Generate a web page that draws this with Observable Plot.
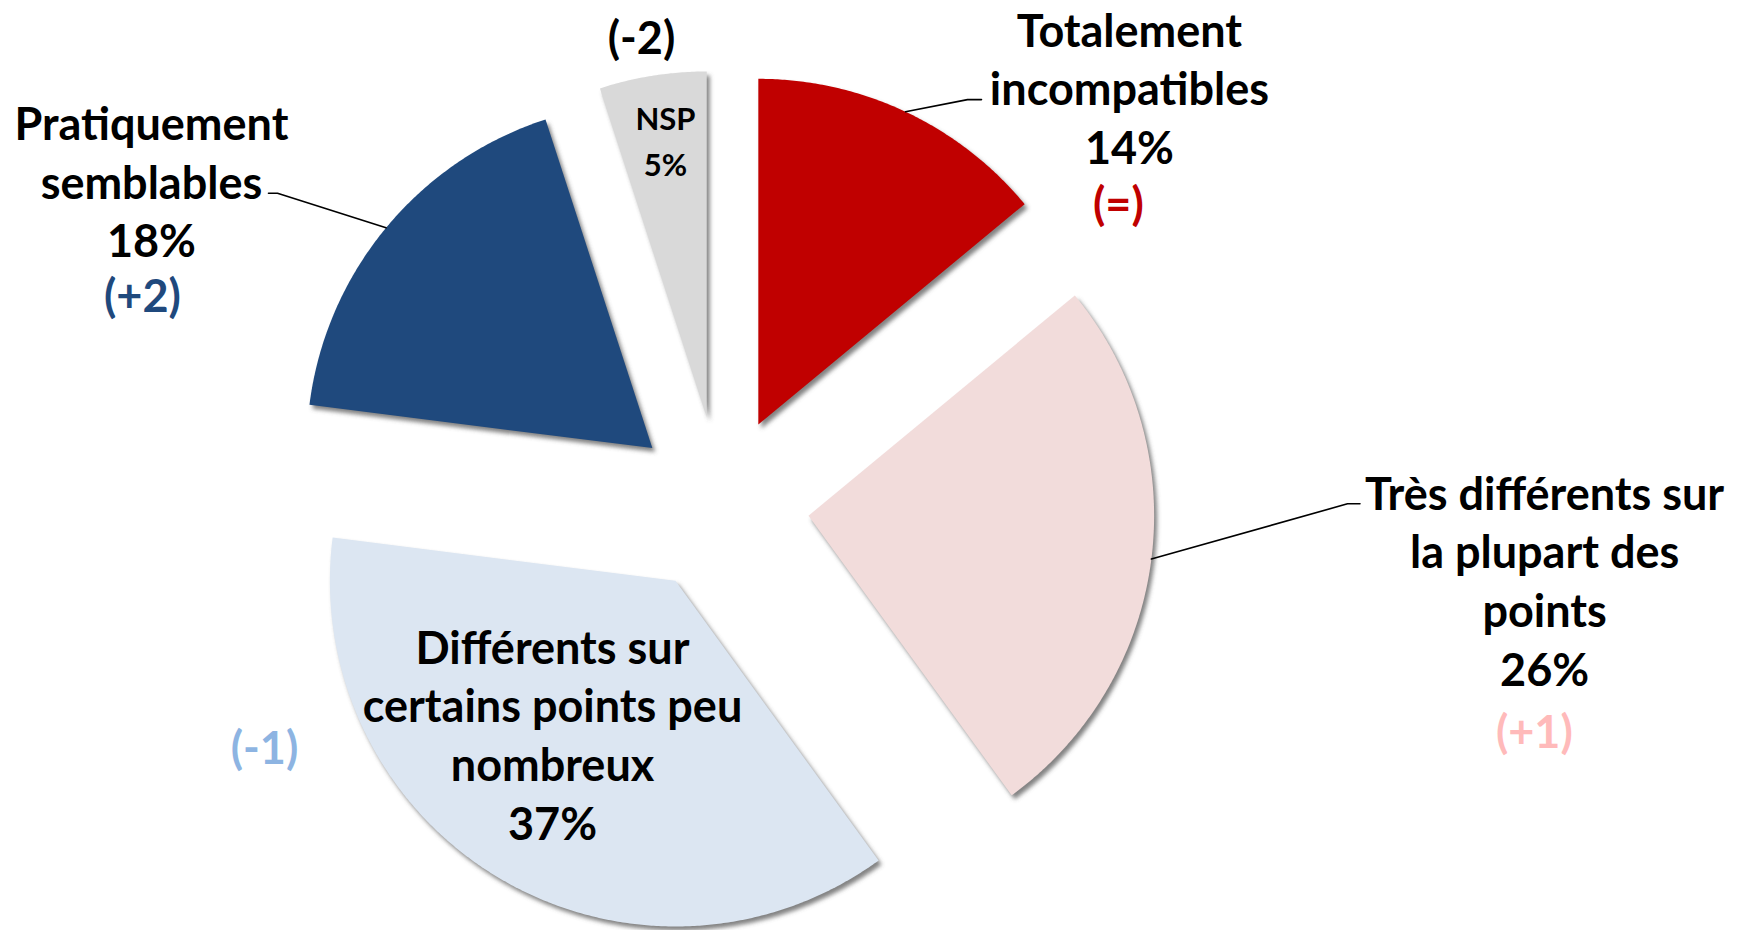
<!DOCTYPE html>
<html>
<head>
<meta charset="utf-8">
<script src="https://cdn.jsdelivr.net/npm/d3@7"></script>
<script src="https://cdn.jsdelivr.net/npm/@observablehq/plot@0.6"></script>
<style>
  html, body { margin: 0; padding: 0; background: #fff; }
  #chart svg { display: block; }
</style>
</head>
<body>
<div id="chart"></div>
<script>
// ---- Data ----
const categories = [
  "Totalement incompatibles",
  "Très différents sur la plupart des points",
  "Différents sur certains points peu nombreux",
  "Pratiquement semblables",
  "NSP"
];
const labelText = [
  "Totalement\nincompatibles",
  "Très différents sur\nla plupart des\npoints",
  "Différents sur\ncertains points peu\nnombreux",
  "Pratiquement\nsemblables",
  "NSP"
];
const shares = [14, 26, 37, 18, 5];
const changes = ["(=)", "(+1)", "(-1)", "(+2)", "(-2)"];

// ---- Styles ----
const sliceColors = ["#C00000", "#F2DCDB", "#DCE6F2", "#1F497D", "#D9D9D9"];
const shadowColor = "#5a5a5a";
const changeColors = ["#C00000", "#FFBABA", "#8DB4E2", "#1F497D", "#000000"];

// ---- Layout (pie units: radius = 1, centre = 0,0, y up) ----
const W = 1737, H = 930;
const layout = {
  cx: 720.1, cy: 504.1, R: 345.6, explode: 0.2564,
  labelAngle: [44.36, 95.16, 216.35, 299.7, 351.45],
  labelDist:  [1.692, 2.394, 0.8206, 1.896, 1.0727],
  changeAngle: [53.07, 105.71, 241.77, 289.7, 350.35],
  changeDist:  [1.440, 2.446, 1.498, 1.777, 1.365],
  labelSize: [45, 45, 45, 45, 31],
  labelLineHeight: [1.304, 1.304, 1.304, 1.304, 1.5],
  changeSize: 45,
  leaders: [
    {i: 0, elbow: [0.7144, 1.1719], end: [0.7549, 1.1719]},
    {i: 1, elbow: [1.8140, 0.0023], end: [1.8501, 0.0023]},
    {i: 3, elbow: [-1.2821, 0.9010], end: [-1.3082, 0.9010]}
  ]
};

const rad = Math.PI / 180;
let acc = 0;
const slices = categories.map((c, i) => {
  const a0 = acc / 100 * 2 * Math.PI;
  acc += shares[i];
  const a1 = acc / 100 * 2 * Math.PI;
  const mid = (a0 + a1) / 2;
  return {c, i, a0, a1, mid, ox: layout.explode * Math.sin(mid), oy: layout.explode * Math.cos(mid)};
});

const slicePts = [];
for (const s of slices) {
  slicePts.push({c: s.c, x: s.ox, y: s.oy});
  const n = Math.max(8, Math.ceil((s.a1 - s.a0) / (0.4 * rad)));
  for (let k = 0; k <= n; k++) {
    const t = s.a0 + (s.a1 - s.a0) * k / n;
    slicePts.push({c: s.c, x: s.ox + Math.sin(t), y: s.oy + Math.cos(t)});
  }
}
const SHADOW = "ombre";
const shadowPts = slicePts.map(d => ({...d, shade: SHADOW}));

const leaderPts = [];
for (const L of layout.leaders) {
  const s = slices[L.i];
  leaderPts.push({c: s.c, x: s.ox + Math.sin(s.mid), y: s.oy + Math.cos(s.mid)});
  leaderPts.push({c: s.c, x: L.elbow[0], y: L.elbow[1]});
  leaderPts.push({c: s.c, x: L.end[0], y: L.end[1]});
}

const labels = slices.map(s => ({
  c: s.c,
  text: labelText[s.i] + "\n" + shares[s.i] + "%",
  x: layout.labelDist[s.i] * Math.sin(layout.labelAngle[s.i] * rad),
  y: layout.labelDist[s.i] * Math.cos(layout.labelAngle[s.i] * rad),
  size: layout.labelSize[s.i],
  lh: layout.labelLineHeight[s.i]
}));
const changeLabels = slices.map(s => ({
  c: s.c,
  text: changes[s.i],
  color: changeColors[s.i],
  x: layout.changeDist[s.i] * Math.sin(layout.changeAngle[s.i] * rad),
  y: layout.changeDist[s.i] * Math.cos(layout.changeAngle[s.i] * rad)
}));

const {cx, cy, R} = layout;
const textMarks = labels.map(l => Plot.text([l], {
  x: "x", y: "y", text: "text", fill: "#000",
  fontSize: l.size, fontWeight: "bold", lineHeight: l.lh,
  textAnchor: "middle", lineAnchor: "middle"
}));

const chart = Plot.plot({
  width: W, height: H,
  margin: 0,
  x: {domain: [-cx / R, (W - cx) / R], axis: null},
  y: {domain: [-(H - cy) / R, cy / R], axis: null},
  color: {domain: [...categories, SHADOW], range: [...sliceColors, shadowColor]},
  style: {fontFamily: "Lato, 'Open Sans', sans-serif", background: "#fff", overflow: "visible"},
  marks: [
    Plot.line(shadowPts, {x: "x", y: "y", z: "c", fill: "shade", fillOpacity: 0.75, stroke: "none",
      curve: "linear-closed", dx: 3, dy: 4}),
    Plot.line(slicePts, {x: "x", y: "y", z: "c", fill: "c", stroke: "none", curve: "linear-closed"}),
    Plot.line(leaderPts, {x: "x", y: "y", z: "c", stroke: "#000", strokeWidth: 1.6}),
    ...textMarks,
    Plot.text(changeLabels, {x: "x", y: "y", text: "text", fill: "color",
      fontSize: layout.changeSize, fontWeight: "bold", textAnchor: "middle", lineAnchor: "middle"})
  ]
});

// soft drop shadow: blur the first line mark (the shadow copy)
const ns = "http://www.w3.org/2000/svg";
const defs = document.createElementNS(ns, "defs");
const filter = document.createElementNS(ns, "filter");
filter.setAttribute("id", "pieShadowBlur");
filter.setAttribute("x", "-10%"); filter.setAttribute("y", "-10%");
filter.setAttribute("width", "120%"); filter.setAttribute("height", "120%");
const blur = document.createElementNS(ns, "feGaussianBlur");
blur.setAttribute("stdDeviation", "2.2");
filter.appendChild(blur);
defs.appendChild(filter);
chart.insertBefore(defs, chart.firstChild);
const lineGroups = chart.querySelectorAll('g[aria-label="line"]');
if (lineGroups.length) lineGroups[0].setAttribute("filter", "url(#pieShadowBlur)");

document.getElementById("chart").appendChild(chart);
</script>
</body>
</html>
